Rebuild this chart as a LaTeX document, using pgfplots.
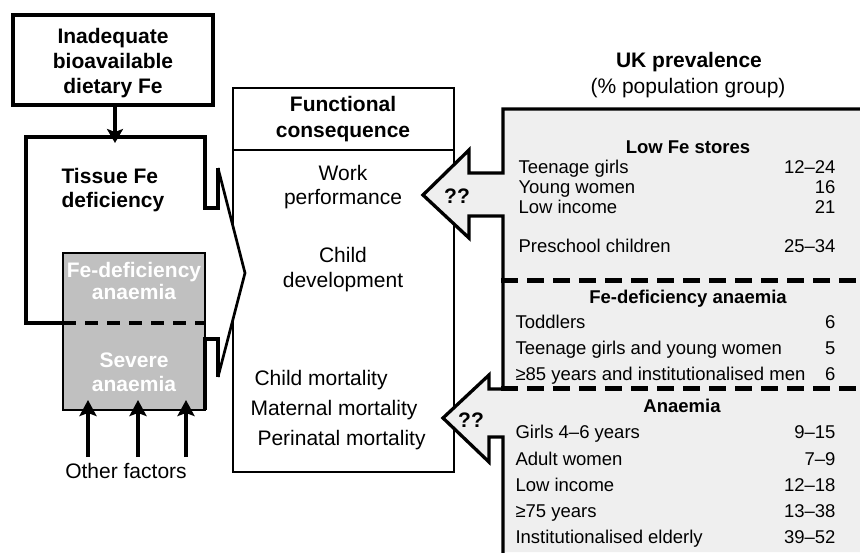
\documentclass[border=0pt]{standalone}
\usepackage{pgfplots}
\pgfplotsset{compat=1.18}
\usepackage{fontspec}
\setmainfont{Liberation Sans}
\usetikzlibrary{arrows.meta}
\definecolor{panel}{RGB}{239,239,239}
\definecolor{greybox}{RGB}{192,192,192}
\newcommand\fa{\fontsize{21}{25}\selectfont}
\newcommand\fb{\fontsize{18.5}{22}\selectfont}
\begin{document}
\begin{tikzpicture}
\begin{axis}[
  width=860pt, height=552pt, scale only axis,
  xmin=0, xmax=860, ymin=0, ymax=552, y dir=reverse,
  axis lines=none, clip=true,
  every node/.style={inner sep=0pt},
]
% top box
\addplot[mark=none, draw=black, line width=4pt, fill=white, line join=miter] coordinates {(13,15)(213,15)(213,105)(13,105)} -- cycle;
\addplot[mark=none, draw=black, line width=4pt, -{Stealth[length=14pt,width=16pt,inset=3pt]}] coordinates {(115,105)(115,143)};
% grey box
\addplot[mark=none, draw=black, line width=1.5pt, fill=greybox] coordinates {(63,253)(205,253)(205,410)(63,410)} -- cycle;
% functional consequence box
\addplot[mark=none, draw=black, line width=2.7pt, fill=white, line join=miter] coordinates {(233,88)(454,88)(454,472)(233,472)} -- cycle;
\addplot[mark=none, draw=black, line width=2.7pt] coordinates {(233,150)(454,150)};
% chevron interior
\addplot[mark=none, draw=none, fill=white] coordinates {(218,168)(245,273)(218,377)} -- cycle;
% tissue outline
\addplot[mark=none, draw=black, line width=4pt, line join=miter] coordinates {(63,323)(26,323)(26,137)(205,137)(205,208)(218,208)(218,168)};
\addplot[mark=none, draw=black, line width=2.7pt, line join=miter] coordinates {(218,168)(245,273)(218,377)};
\addplot[mark=none, draw=black, line width=4pt, line join=miter] coordinates {(218,377)(218,339)(205,339)(205,410)};
\addplot[mark=none, draw=black, line width=4pt, dash pattern=on 13pt off 9pt] coordinates {(63,323)(205,323)};
% other factors arrows
\addplot[mark=none, draw=black, line width=4pt, -{Stealth[length=16pt,width=17pt,inset=3pt]}] coordinates {(88,457)(88,400)};
\addplot[mark=none, draw=black, line width=4pt, -{Stealth[length=16pt,width=17pt,inset=3pt]}] coordinates {(138,457)(138,400)};
\addplot[mark=none, draw=black, line width=4pt, -{Stealth[length=16pt,width=17pt,inset=3pt]}] coordinates {(186,457)(186,400)};
% right panel fill
\addplot[mark=none, draw=none, fill=panel] coordinates {(860,109)(503,109)(503,173)(469,173)(469,150)(423,195)(469,238)(469,216)(503,216)(503,389)(489,389)(489,375)(443,418)(489,462)(489,437)(503,437)(503,552)(860,552)} -- cycle;
\addplot[mark=none, draw=black, line width=3.3pt, line join=miter] coordinates {(862,109)(503,109)(503,173)(469,173)(469,150)(423,195)(469,238)(469,216)(503,216)(503,389)(489,389)(489,375)(443,418)(489,462)(489,437)(503,437)(503,555)};
\addplot[mark=none, draw=black, line width=5pt, dash pattern=on 17pt off 9pt] coordinates {(501,280)(862,280)};
\addplot[mark=none, draw=black, line width=5pt, dash pattern=on 17pt off 9pt] coordinates {(501,388)(862,388)};
% texts left
\node[anchor=base, font=\fa\bfseries] at (axis cs:113,43) {Inadequate};
\node[anchor=base, font=\fa\bfseries] at (axis cs:113,68) {bioavailable};
\node[anchor=base, font=\fa\bfseries] at (axis cs:113,93) {dietary Fe};
\node[anchor=base west, font=\fa\bfseries] at (axis cs:58,183) {Tissue Fe};
\node[anchor=base west, font=\fa\bfseries] at (axis cs:58,207) {deficiency};
\node[anchor=base, font=\fa\bfseries, text=white] at (axis cs:134,277) {Fe-deficiency};
\node[anchor=base, font=\fa\bfseries, text=white] at (axis cs:134,299) {anaemia};
\node[anchor=base, font=\fa\bfseries, text=white] at (axis cs:134,367) {Severe};
\node[anchor=base, font=\fa\bfseries, text=white] at (axis cs:134,391) {anaemia};
\node[anchor=base, font=\fa] at (axis cs:126,478) {Other factors};
% functional box texts
\node[anchor=base, font=\fa\bfseries] at (axis cs:343,111) {Functional};
\node[anchor=base, font=\fa\bfseries] at (axis cs:343,137) {consequence};
\node[anchor=base, font=\fa] at (axis cs:343,180) {Work};
\node[anchor=base, font=\fa] at (axis cs:343,204) {performance};
\node[anchor=base, font=\fa] at (axis cs:343,262) {Child};
\node[anchor=base, font=\fa] at (axis cs:343,287) {development};
\node[anchor=base west, font=\fa] at (axis cs:251,385) {Child mortality};
\node[anchor=base west, font=\fa] at (axis cs:247,415) {Maternal mortality};
\node[anchor=base west, font=\fa] at (axis cs:254,445) {Perinatal mortality};
\node[anchor=base, font=\fa\bfseries] at (axis cs:457,203) {??};
\node[anchor=base, font=\fa\bfseries] at (axis cs:471,427) {??};
% right panel texts
\node[anchor=base, font=\fa\bfseries] at (axis cs:689,67) {UK prevalence};
\node[anchor=base, font=\fa] at (axis cs:688,93) {(\% population group)};
\node[anchor=base, font=\fb\bfseries] at (axis cs:688,153) {Low Fe stores};
\node[anchor=base west, font=\fb] at (axis cs:515,173) {Teenage girls};
\node[anchor=base west, font=\fb] at (axis cs:515,193) {Young women};
\node[anchor=base west, font=\fb] at (axis cs:515,213) {Low income};
\node[anchor=base west, font=\fb] at (axis cs:515,252) {Preschool children};
\node[anchor=base east, font=\fb] at (axis cs:839,173) {12–24};
\node[anchor=base east, font=\fb] at (axis cs:839,193) {16};
\node[anchor=base east, font=\fb] at (axis cs:839,213) {21};
\node[anchor=base east, font=\fb] at (axis cs:839,252) {25–34};
\node[anchor=base, font=\fb\bfseries] at (axis cs:688,303) {Fe-deficiency anaemia};
\node[anchor=base west, font=\fb] at (axis cs:512,328) {Toddlers};
\node[anchor=base west, font=\fb] at (axis cs:512,354) {Teenage girls and young women};
\node[anchor=base west, font=\fb] at (axis cs:512,380) {≥85 years and institutionalised men};
\node[anchor=base east, font=\fb] at (axis cs:839,328) {6};
\node[anchor=base east, font=\fb] at (axis cs:839,354) {5};
\node[anchor=base east, font=\fb] at (axis cs:839,380) {6};
\node[anchor=base, font=\fb\bfseries] at (axis cs:682,412) {Anaemia};
\node[anchor=base west, font=\fb] at (axis cs:512,438) {Girls 4–6 years};
\node[anchor=base west, font=\fb] at (axis cs:512,465) {Adult women};
\node[anchor=base west, font=\fb] at (axis cs:512,491) {Low income};
\node[anchor=base west, font=\fb] at (axis cs:512,517) {≥75 years};
\node[anchor=base west, font=\fb] at (axis cs:512,543) {Institutionalised elderly};
\node[anchor=base east, font=\fb] at (axis cs:839,438) {9–15};
\node[anchor=base east, font=\fb] at (axis cs:839,465) {7–9};
\node[anchor=base east, font=\fb] at (axis cs:839,491) {12–18};
\node[anchor=base east, font=\fb] at (axis cs:839,517) {13–38};
\node[anchor=base east, font=\fb] at (axis cs:839,543) {39–52};
\end{axis}
\pgfresetboundingbox
\useasboundingbox (0,0) rectangle (860pt,552pt);
\end{tikzpicture}
\end{document}
